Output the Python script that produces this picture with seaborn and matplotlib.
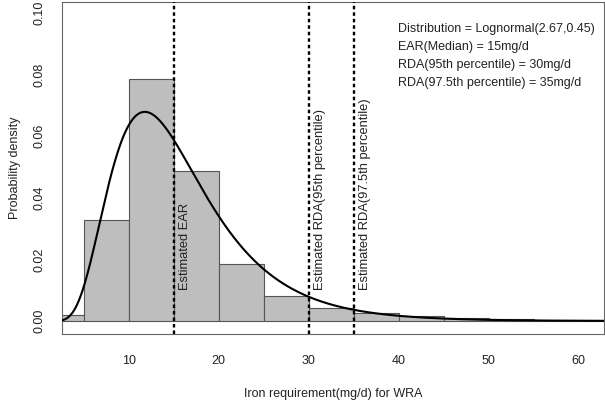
import numpy as np
import pandas as pd
import matplotlib
matplotlib.use("Agg")
import matplotlib.pyplot as plt
import seaborn as sns

# --- data ---
bin_edges = [0, 5, 10, 15, 20, 25, 30, 35, 40, 45, 50, 55, 60, 65]
bin_density = [0.002, 0.0328, 0.0787, 0.0487, 0.0184, 0.0081, 0.0041,
               0.0025, 0.0015, 0.0011, 0.0006, 0.0005, 0.0002]
meanlog, sdlog = 2.67, 0.45
ref_x = [15, 30, 35]
ref_labels = ["Estimated EAR", "Estimated RDA(95th percentile)",
              "Estimated RDA(97.5th percentile)"]
info_lines = ["Distribution = Lognormal(2.67,0.45)",
              "EAR(Median) = 15mg/d",
              "RDA(95th percentile) = 30mg/d",
              "RDA(97.5th percentile) = 35mg/d"]
x_ticks = [10, 20, 30, 40, 50, 60]
y_ticks = [0.00, 0.02, 0.04, 0.06, 0.08, 0.10]

sns.set_theme(style="white")
plt.rcParams["font.family"] = ["Liberation Sans", "DejaVu Sans"]
plt.rcParams["font.size"] = 9

FS = 9
TXT = "#222222"

fig = plt.figure(figsize=(6.05, 4.01), dpi=100)
ax = fig.add_axes([62 / 605, 1 - 334 / 401, 542 / 605, 332 / 401])

mids = [(a + b) / 2 for a, b in zip(bin_edges[:-1], bin_edges[1:])]
hist_df = pd.DataFrame({"mid": mids, "density": bin_density})
sns.histplot(data=hist_df, x="mid", weights="density", bins=bin_edges,
             stat="count", color="#BEBEBE", edgecolor="#555555",
             linewidth=0.8, alpha=1, ax=ax, zorder=1)

# fitted lognormal density with the stated parameters
xs = np.linspace(0.5, 65, 600)
pdf = np.exp(-(np.log(xs) - meanlog) ** 2 / (2 * sdlog ** 2)) / (xs * sdlog * np.sqrt(2 * np.pi))
curve_df = pd.DataFrame({"x": xs, "pdf": pdf})
sns.lineplot(data=curve_df, x="x", y="pdf", color="black", linewidth=1.5, ax=ax, zorder=3)

for xv, lab in zip(ref_x, ref_labels):
    ax.axvline(xv, color="black", linewidth=1.7, linestyle=(0, (1.5, 1.25)), zorder=4)
    ax.text(xv + 1.3, 0.01, lab, rotation=90, ha="center", va="bottom",
            fontsize=9.3, color=TXT, zorder=5)

for i, line in enumerate(info_lines):
    ax.text(39.9, 0.0948 - i * 0.00588, line, ha="left", va="center",
            fontsize=FS, color=TXT)

ax.set_xlim(2.6, 62.8)
ax.set_ylim(-0.0042, 0.1036)
ax.set_xticks(x_ticks)
ax.set_yticks(y_ticks)
ax.set_yticklabels([f"{v:.2f}" for v in y_ticks], rotation=90, va="center")
ax.tick_params(axis="both", direction="out", length=6, width=0.8,
               color="#666666", labelcolor=TXT, labelsize=FS)
ax.tick_params(axis="x", pad=9)
ax.tick_params(axis="y", pad=6)
for s in ax.spines.values():
    s.set_color("#666666")
    s.set_linewidth(0.8)

ax.set_xlabel("Iron requirement(mg/d) for WRA", fontsize=FS, color=TXT, labelpad=15)
ax.set_ylabel("Probability density", fontsize=FS, color=TXT, labelpad=9)
ax.grid(False)

fig.savefig("out.png", dpi=100)
